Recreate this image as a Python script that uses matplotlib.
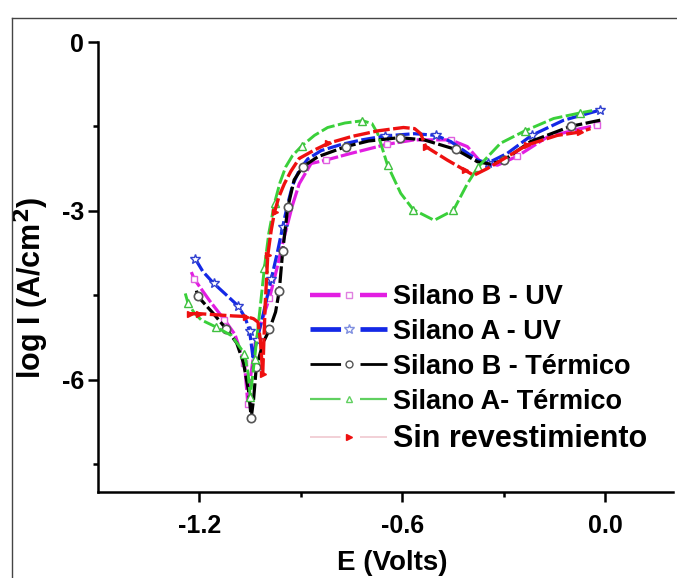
import numpy as np
import matplotlib.pyplot as plt
from matplotlib.lines import Line2D

plt.rcParams['font.family'] = ['Liberation Sans', 'DejaVu Sans']
plt.rcParams['font.weight'] = 'bold'
plt.rcParams['lines.scale_dashes'] = False

# curves: E (V) vs log I
e_b_uv = [-1.224, -1.216, -1.17, -1.126, -1.095, -1.067, -1.057, -1.050, -1.035, -1.015,
          -0.993, -0.970, -0.955, -0.940, -0.925, -0.905, -0.870, -0.827, -0.752, -0.647,
          -0.565, -0.457, -0.408, -0.369, -0.319, -0.260, -0.172, -0.074, -0.024]
i_b_uv = [-4.09, -4.21, -4.60, -4.94, -5.20, -5.71, -6.43, -6.00, -5.35, -4.95,
          -4.55, -4.00, -3.60, -3.25, -2.90, -2.52, -2.16, -2.10, -1.98, -1.82,
          -1.74, -1.74, -1.86, -2.13, -2.19, -2.03, -1.69, -1.54, -1.48]
mk_b_uv = [1, 3, 5, 6, 10, 17, 19, 21, 25, 28]

e_a_uv = [-1.212, -1.19, -1.158, -1.12, -1.086, -1.065, -1.052, -1.042, -1.030, -1.010,
          -0.988, -0.970, -0.954, -0.940, -0.925, -0.905, -0.88, -0.84, -0.78, -0.72,
          -0.652, -0.565, -0.501, -0.457, -0.378, -0.347, -0.290, -0.218, -0.123, -0.015]
i_a_uv = [-3.86, -4.08, -4.29, -4.50, -4.69, -4.90, -5.13, -5.60, -5.30, -4.80,
          -4.22, -3.75, -3.29, -2.90, -2.55, -2.28, -2.08, -1.93, -1.82, -1.74,
          -1.67, -1.63, -1.66, -1.77, -2.10, -2.15, -1.98, -1.66, -1.39, -1.21]
mk_a_uv = [0, 2, 4, 6, 8, 10, 12, 20, 22, 25, 27, 29]

e_b_t = [-1.209, -1.205, -1.16, -1.121, -1.09, -1.07, -1.055, -1.047, -1.040, -1.032,
         -1.012, -0.993, -0.975, -0.964, -0.954, -0.939, -0.920, -0.895, -0.850, -0.768,
         -0.700, -0.608, -0.536, -0.442, -0.378, -0.340, -0.300, -0.221, -0.103, -0.015]
i_b_t = [-4.42, -4.52, -4.82, -5.10, -5.35, -5.70, -6.20, -6.68, -6.35, -5.78,
         -5.35, -5.11, -4.80, -4.42, -3.72, -2.94, -2.45, -2.22, -2.04, -1.86,
         -1.76, -1.70, -1.74, -1.91, -2.13, -2.17, -2.10, -1.77, -1.50, -1.39]
mk_b_t = [1, 3, 7, 9, 11, 13, 14, 15, 17, 19, 21, 23, 26, 28]

e_a_t = [-1.242, -1.234, -1.215, -1.195, -1.150, -1.105, -1.067, -1.056, -1.050, -1.037,
         -1.022, -1.008, -0.995, -0.978, -0.962, -0.945, -0.925, -0.898, -0.860, -0.821,
         -0.770, -0.718, -0.690, -0.673, -0.644, -0.605, -0.568, -0.506, -0.449, -0.408,
         -0.376, -0.310, -0.238, -0.153, -0.074, -0.039]
i_a_t = [-4.47, -4.64, -4.82, -4.94, -5.07, -5.22, -5.54, -5.90, -6.31, -5.63,
         -4.80, -4.01, -3.40, -2.86, -2.50, -2.22, -2.02, -1.85, -1.66, -1.52,
         -1.44, -1.40, -1.45, -1.63, -2.19, -2.69, -2.98, -3.17, -2.99, -2.52,
         -2.22, -1.80, -1.58, -1.36, -1.26, -1.22]
mk_a_t = [1, 4, 6, 8, 9, 11, 13, 17, 21, 24, 26, 28, 30, 32, 34]

e_sin = [-1.229, -1.200, -1.150, -1.100, -1.062, -1.040, -1.027, -1.020, -1.013, -1.010,
         -1.006, -0.998, -0.988, -0.978, -0.965, -0.949, -0.930, -0.905, -0.860, -0.819,
         -0.750, -0.673, -0.597, -0.564, -0.546, -0.531, -0.467, -0.415, -0.389, -0.349,
         -0.290, -0.231, -0.142, -0.074, -0.044]
i_sin = [-4.83, -4.83, -4.85, -4.87, -4.88, -4.92, -4.98, -5.30, -5.90, -5.40,
         -4.70, -3.79, -3.35, -3.02, -2.75, -2.52, -2.30, -2.07, -1.92, -1.80,
         -1.68, -1.58, -1.52, -1.54, -1.63, -1.86, -2.10, -2.28, -2.37, -2.25,
         -2.04, -1.83, -1.66, -1.60, -1.54]
mk_sin = [0, 1, 4, 8, 11, 13, 19, 25, 27, 31, 33]

labels = ['Silano B - UV', 'Silano A - UV', 'Silano B - Térmico',
          'Silano A- Térmico', 'Sin revestimiento']

fig = plt.figure(figsize=(6.77, 5.78), dpi=100)
ax = fig.add_axes([98 / 677, 86 / 578, 575 / 677, 450 / 578])

ax.plot(e_b_uv, i_b_uv, color='#e21ee2', lw=2.3, ls=(0, (12, 2)),
        marker='s', ms=5, mfc='white', mec='#e060e0', mew=1, markevery=mk_b_uv)
ax.plot(e_a_uv, i_a_uv, color='#1428e6', lw=2.3, ls=(0, (10, 2.5)),
        marker='*', ms=7, mfc='white', mec='#3040d0', mew=1, markevery=mk_a_uv)
ax.plot(e_b_t, i_b_t, color='black', lw=2.3, ls=(0, (12, 2.5)),
        marker='o', ms=6, mfc='white', mec='#555555', mew=1.2, markevery=mk_b_t)
ax.plot(e_a_t, i_a_t, color='#3ad03a', lw=2.1, ls=(0, (10, 2.5)),
        marker='^', ms=6, mfc='white', mec='#40c040', mew=1, markevery=mk_a_t)
ax.plot(e_sin, i_sin, color='#ee1010', lw=2.4, ls=(0, (12, 2.5)),
        marker='>', ms=5, mfc='#ee1010', mec='#ee1010', markevery=mk_sin)

ax.set_xlim(-1.5, 0.2)
ax.set_ylim(-8, 0)
ax.set_xticks([-1.2, -0.6, 0.0])
ax.set_xticklabels(['-1.2', '-0.6', '0.0'])
ax.set_xticks([-0.9, -0.3], minor=True)
ax.set_yticks([0, -3, -6])
ax.set_yticklabels(['0', '-3', '-6'])
ax.set_yticks([-1.5, -4.5, -7.5], minor=True)
ax.tick_params(which='major', direction='out', length=7, width=1.8, labelsize=18, pad=3)
ax.tick_params(which='minor', direction='out', length=3.5, width=1.8)
ax.tick_params(axis='x', which='major', pad=9)
for side in ['top', 'right']:
    ax.spines[side].set_visible(False)
for side in ['left', 'bottom']:
    ax.spines[side].set_linewidth(1.8)

ax.set_xlabel('E (Volts)', fontsize=20, fontweight='bold')
ax.xaxis.set_label_coords(0.511, -0.128)
ax.set_ylabel('log I (A/cm$^\\mathbf{2}$)', fontsize=22, fontweight='bold')
ax.yaxis.set_label_coords(-0.082, 0.453)

handles = [
    Line2D([], [], color='#e21ee2', lw=3.2, ls=(0, (22, 14)), marker='s', ms=5,
           mfc='white', mec='#e080e0', mew=1),
    Line2D([], [], color='#1428e6', lw=3.4, ls=(0, (22, 14)), marker='*', ms=7,
           mfc='white', mec='#8090e0', mew=1),
    Line2D([], [], color='black', lw=2.0, ls=(0, (22, 14)), marker='o', ms=5,
           mfc='white', mec='#555555', mew=1),
    Line2D([], [], color='#60d060', lw=1.6, ls=(0, (22, 14)), marker='^', ms=5,
           mfc='white', mec='#60d060', mew=1),
    Line2D([], [], color='#f0c8d0', lw=1.2, ls=(0, (22, 14)), marker='>', ms=5,
           mfc='#ee1010', mec='#ee1010'),
]
leg = fig.legend(handles, labels, loc='upper left', bbox_to_anchor=(310 / 677, 1 - 284 / 578),
                 frameon=False, handlelength=2.85, handletextpad=0.22,
                 labelspacing=0.33, borderpad=0, borderaxespad=0, numpoints=1,
                 prop={'weight': 'bold', 'size': 19.5})
# last entry is set larger in the source
leg.get_texts()[4].set_fontsize(22)

# thin frame around the figure (top and left edges visible in the source)
fig.add_artist(Line2D([12 / 677, 1], [1 - 18 / 578, 1 - 18 / 578], color='#444444', lw=1))
fig.add_artist(Line2D([12 / 677, 12 / 677], [0, 1 - 18 / 578], color='#444444', lw=1))

fig.savefig('out.png', dpi=100)
